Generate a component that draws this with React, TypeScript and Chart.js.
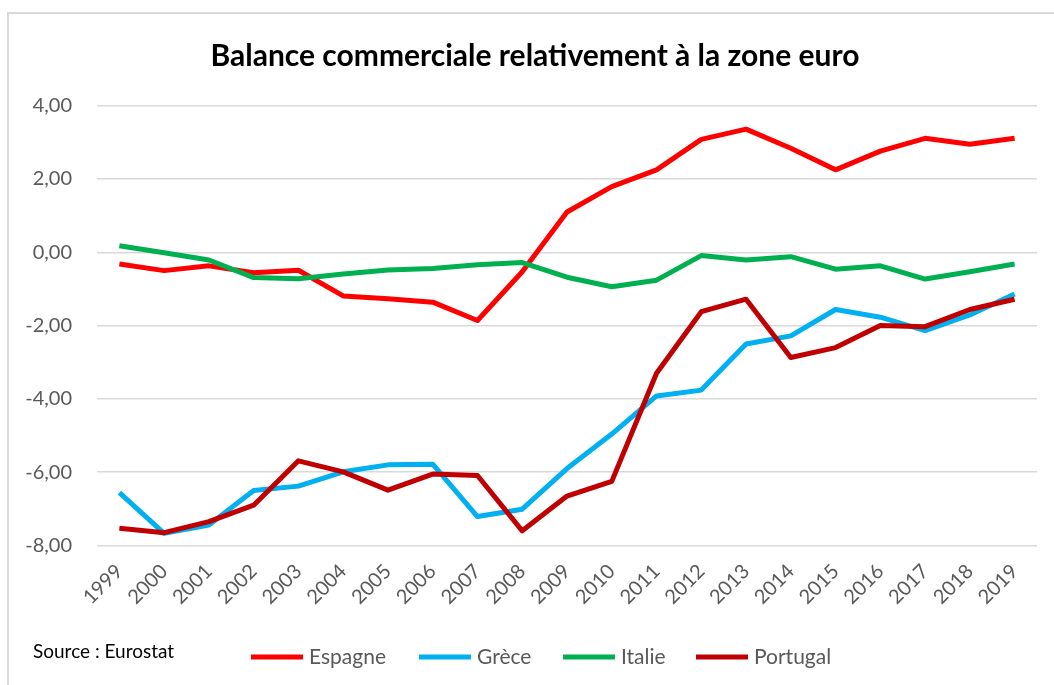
import React, { useEffect, useRef } from "react";
import { Chart, registerables } from "chart.js";

Chart.register(...registerables);

const years = ["1999","2000","2001","2002","2003","2004","2005","2006","2007","2008","2009","2010","2011","2012","2013","2014","2015","2016","2017","2018","2019"];
const espagne = [-0.32, -0.50, -0.37, -0.56, -0.49, -1.19, -1.27, -1.36, -1.86, -0.53, 1.10, 1.79, 2.25, 3.08, 3.36, 2.84, 2.25, 2.76, 3.11, 2.95, 3.11];
const grece = [-6.56, -7.67, -7.44, -6.50, -6.38, -5.99, -5.80, -5.78, -7.21, -7.01, -5.90, -4.96, -3.92, -3.76, -2.50, -2.28, -1.56, -1.77, -2.14, -1.71, -1.14];
const italie = [0.18, -0.01, -0.21, -0.69, -0.72, -0.59, -0.48, -0.44, -0.34, -0.28, -0.68, -0.94, -0.76, -0.09, -0.21, -0.12, -0.46, -0.37, -0.73, -0.53, -0.32];
const portugal = [-7.53, -7.65, -7.35, -6.90, -5.69, -5.99, -6.49, -6.05, -6.09, -7.60, -6.65, -6.25, -3.30, -1.62, -1.28, -2.87, -2.60, -2.00, -2.03, -1.56, -1.28];

const seriesNames = ["Espagne", "Grèce", "Italie", "Portugal"];
const seriesColors = ["#FF0000", "#00B0F0", "#00B050", "#C00000"];
const titleText = "Balance commerciale relativement à la zone euro";
const sourceText = "Source : Eurostat";

const legendX = [251, 419, 563, 696];

const overlayPlugin = {
  id: "overlay",
  afterDraw(chart: any) {
    const ctx = chart.ctx;
    ctx.save();
    // title
    ctx.fillStyle = "#000000";
    ctx.font = "bold 30px Lato";
    ctx.textAlign = "center";
    ctx.textBaseline = "alphabetic";
    ctx.fillText(titleText, 535, 66);
    // source
    ctx.font = "19px Lato";
    ctx.textAlign = "left";
    ctx.fillText(sourceText, 33, 658);
    // legend
    ctx.font = "21px Lato";
    ctx.textBaseline = "middle";
    seriesNames.forEach((name, i) => {
      const x = legendX[i];
      ctx.fillStyle = seriesColors[i];
      ctx.fillRect(x, 654.5, 52, 5);
      ctx.fillStyle = "#595959";
      ctx.fillText(name, x + 58, 657);
    });
    ctx.restore();
  },
};

export default function App() {
  const ref = useRef<HTMLCanvasElement | null>(null);
  useEffect(() => {
    if (!ref.current) return;
    const datasets = [espagne, grece, italie, portugal].map((d, i) => ({
      label: seriesNames[i],
      data: d,
      borderColor: seriesColors[i],
      backgroundColor: seriesColors[i],
      borderWidth: 5,
      pointRadius: 0,
      tension: 0,
      borderJoinStyle: "round" as const,
      borderCapStyle: "butt" as const,
      order: 4 - i,
    }));
    const chart = new Chart(ref.current, {
      type: "line",
      data: { labels: years, datasets },
      options: {
        animation: false,
        responsive: true,
        maintainAspectRatio: false,
        layout: { padding: { top: 105.7, right: 17, bottom: 0, left: 0 } },
        plugins: {
          legend: { display: false },
          title: { display: false },
          tooltip: { enabled: false },
        },
        scales: {
          x: {
            offset: true,
            grid: { display: false, drawTicks: false },
            border: { display: false },
            afterFit(scale: any) { scale.height = 139.5; },
            ticks: {
              minRotation: 45,
              maxRotation: 45,
              autoSkip: false,
              padding: 14,
              color: "#595959",
              font: { family: "Lato", size: 20 },
            },
          },
          y: {
            min: -8,
            max: 4,
            afterFit(scale: any) { scale.width = 97; },
            grid: { color: "#d9d9d9", lineWidth: 1.5, drawTicks: false },
            border: { display: false },
            ticks: {
              stepSize: 2,
              padding: 25,
              color: "#595959",
              font: { family: "Lato", size: 20 },
              callback: (v: any) => Number(v).toFixed(2).replace(".", ","),
            },
          },
        },
      },
      plugins: [overlayPlugin],
    });
    return () => chart.destroy();
  }, []);
  return (
    <div style={{ position: "fixed", left: 0, top: 0, width: 1054, height: 685, overflow: "hidden", background: "#ffffff" }}>
      <div style={{ position: "absolute", left: 7, top: 12, width: 1100, height: 700, borderLeft: "2px solid #d9d9d9", borderTop: "2px solid #d9d9d9" }} />
      <div style={{ position: "absolute", left: 0, top: 0, width: 1054, height: 685 }}>
        <canvas ref={ref} />
      </div>
    </div>
  );
}
